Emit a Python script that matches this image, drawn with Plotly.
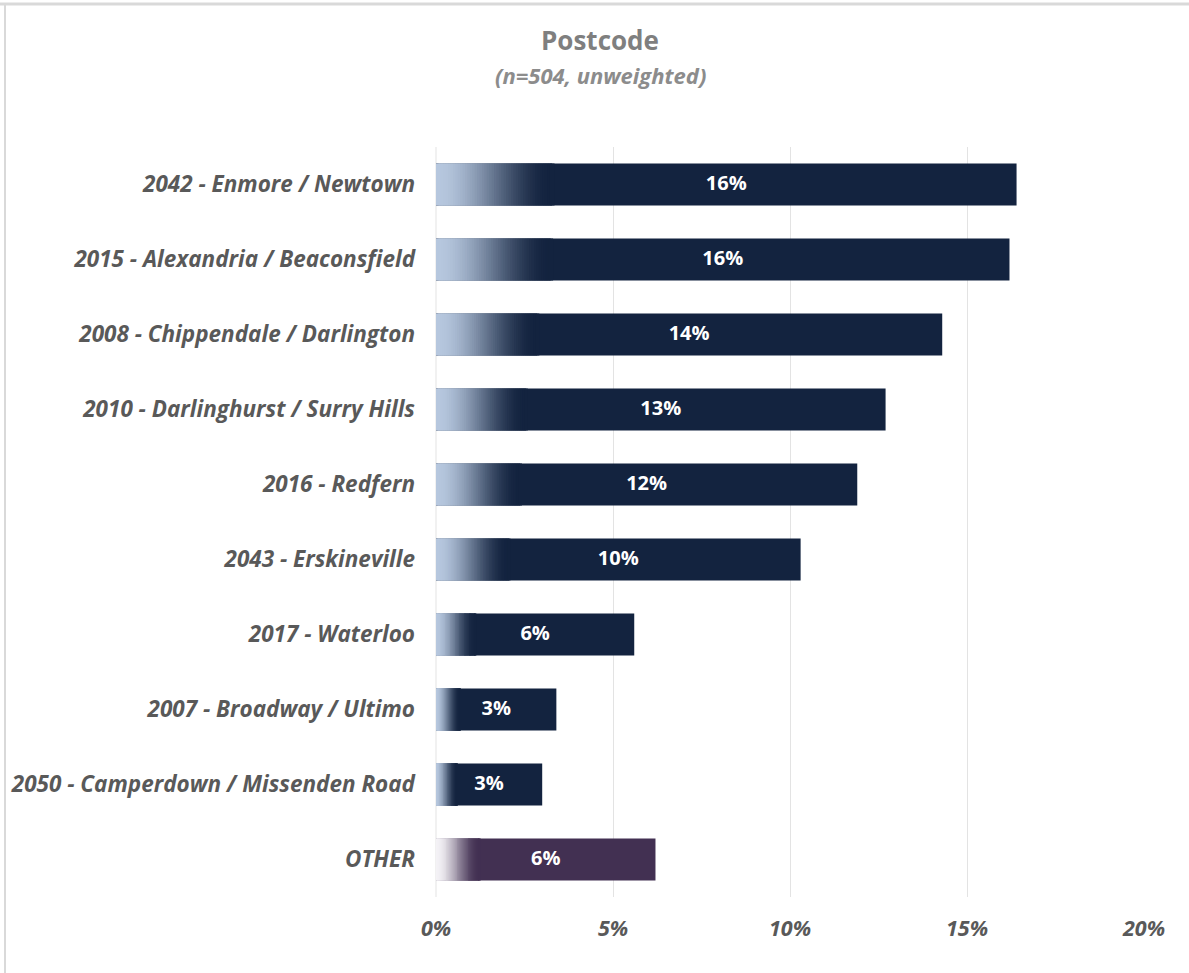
import plotly.graph_objects as go

# Share of respondents by postcode (percent)
categories = [
    "2042 - Enmore / Newtown",
    "2015 - Alexandria / Beaconsfield",
    "2008 - Chippendale / Darlington",
    "2010 - Darlinghurst / Surry Hills",
    "2016 - Redfern",
    "2043 - Erskineville",
    "2017 - Waterloo",
    "2007 - Broadway / Ultimo",
    "2050 - Camperdown / Missenden Road",
    "OTHER",
]
values = [16.4, 16.2, 14.3, 12.7, 11.9, 10.3, 5.6, 3.4, 3.0, 6.2]
tick_vals = [0, 5, 10, 15, 20]
tick_text = ["0%", "5%", "10%", "15%", "20%"]

# Colour ramps: light start -> solid bar colour
NAVY_START, NAVY_END = (182, 199, 222), (19, 35, 63)
PURPLE_START, PURPLE_END = (244, 242, 246), (66, 48, 82)

GRAD_FRAC = 0.20   # fraction of each bar covered by the fade-in
N_STEPS = 48


def mix(a, b, t):
    return "rgb({},{},{})".format(*[round(a[i] + (b[i] - a[i]) * t) for i in range(3)])


def ease(t):
    # smooth start and finish so the fade blends into the solid bar
    return t * t * (3 - 2 * t)


def ramp(cat):
    return (PURPLE_START, PURPLE_END) if cat == "OTHER" else (NAVY_START, NAVY_END)


fig = go.Figure()

# solid full-length bars
fig.add_trace(go.Bar(
    y=categories,
    x=values,
    orientation="h",
    width=0.56,
    marker=dict(color=[mix(*ramp(c), 1.0) for c in categories], line=dict(width=0)),
    showlegend=False,
))

# fade-in at the start of every bar; each step reaches two steps ahead so its
# right edge sits inside the next step and no seams show
step = GRAD_FRAC / N_STEPS
for k in range(N_STEPS):
    t0 = step * k
    t = ease(k / (N_STEPS - 1))
    fig.add_trace(go.Bar(
        y=categories,
        x=[v * step * 2 for v in values],
        base=[v * t0 for v in values],
        orientation="h",
        width=0.56,
        marker=dict(color=[mix(*ramp(c), t) for c in categories], line=dict(width=0)),
        hoverinfo="skip",
        showlegend=False,
    ))

# value labels centred on each bar
fig.add_trace(go.Scatter(
    y=categories,
    x=[v / 2 for v in values],
    mode="text",
    text=[f"{v:.0f}%" for v in values],
    textfont=dict(family="Open Sans", size=20, color="white", weight="bold"),
    showlegend=False,
    hoverinfo="skip",
))

fig.update_layout(
    width=1189,
    height=973,
    barmode="overlay",
    plot_bgcolor="white",
    paper_bgcolor="white",
    margin=dict(l=436, r=45, t=147, b=76),
    xaxis=dict(
        range=[0, 20],
        tickvals=tick_vals,
        ticktext=tick_text,
        showgrid=True,
        gridcolor="#e3e3e3",
        gridwidth=1,
        zeroline=False,
        showline=False,
        ticks="",
        ticklabelstandoff=16,
        tickfont=dict(family="Open Sans", size=21.5, color="#595959", weight="bold", style="italic"),
        fixedrange=True,
    ),
    yaxis=dict(
        autorange="reversed",
        showgrid=False,
        zeroline=False,
        showline=False,
        ticks="",
        ticklabelstandoff=20,
        tickfont=dict(family="Open Sans", size=22.5, color="#595959", weight="bold", style="italic"),
        fixedrange=True,
    ),
    shapes=[
        dict(type="line", xref="paper", yref="paper", x0=0, x1=0, y0=0, y1=1,
             line=dict(color="#e3e3e3", width=1), layer="below"),
        # outer frame (top and left edges)
        dict(type="line", xref="paper", yref="paper",
             x0=-436 / 708, x1=(1189 - 436) / 708, y0=1 + 143 / 750, y1=1 + 143 / 750,
             line=dict(color="#d9d9d9", width=3)),
        dict(type="line", xref="paper", yref="paper",
             x0=-431 / 708, x1=-431 / 708, y0=-76 / 750, y1=1 + 143 / 750,
             line=dict(color="#d9d9d9", width=2)),
    ],
    annotations=[
        dict(text="Postcode", xref="paper", yref="paper",
             x=(600 - 436) / 708, y=1 + (147 - 40) / 750, showarrow=False,
             xanchor="center", yanchor="middle",
             font=dict(family="Open Sans", size=26, color="#7f7f7f", weight="bold")),
        dict(text="(n=504, unweighted)", xref="paper", yref="paper",
             x=(600 - 436) / 708, y=1 + (147 - 75) / 750, showarrow=False,
             xanchor="center", yanchor="middle",
             font=dict(family="Open Sans", size=22, color="#8c8c8c", weight="bold", style="italic")),
    ],
)

fig.write_html("out.html")
